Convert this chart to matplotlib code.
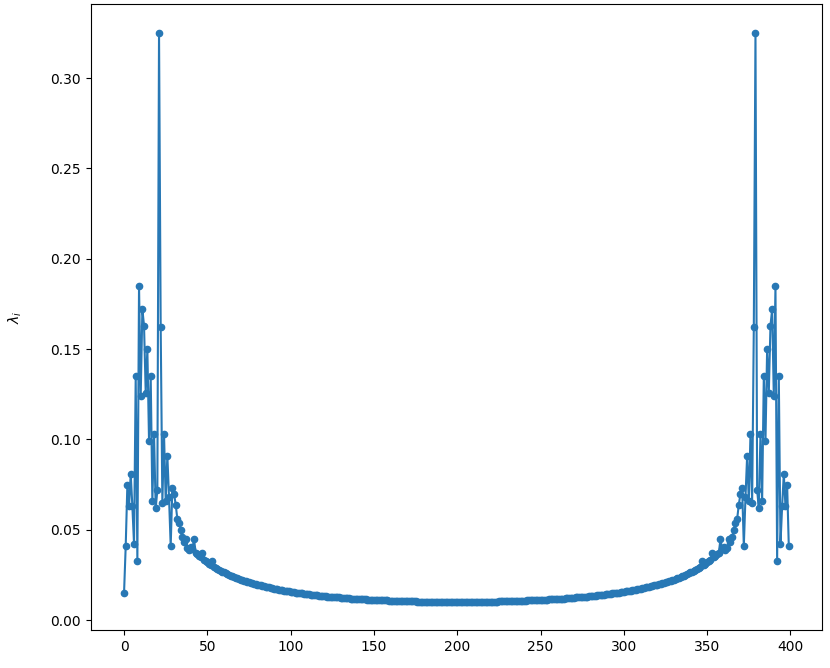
import numpy as np
import matplotlib.pyplot as plt

# left half of the spectrum, index 0..200 (right half mirrors it about 200)
head = [0.015, 0.041, 0.075, 0.063, 0.081, 0.063, 0.042, 0.135, 0.033, 0.185,
        0.124, 0.172, 0.163, 0.126, 0.150, 0.099, 0.135, 0.066, 0.103, 0.062,
        0.072, 0.325, 0.162, 0.065, 0.103, 0.066, 0.091, 0.068, 0.041, 0.073,
        0.070, 0.064, 0.056, 0.054, 0.050, 0.046, 0.043, 0.045, 0.040, 0.039,
        0.0405]

tail = [0.0393, 0.0448, 0.0374, 0.0365, 0.0357, 0.0349, 0.0373, 0.0333, 0.0326, 0.0320,
        0.0313, 0.0307, 0.0327, 0.0295, 0.0289, 0.0284, 0.0279, 0.0274, 0.0269, 0.0264,
        0.0260, 0.0255, 0.0251, 0.0247, 0.0243, 0.0239, 0.0236, 0.0232, 0.0229, 0.0225,
        0.0222, 0.0219, 0.0216, 0.0213, 0.0210, 0.0207, 0.0204, 0.0202, 0.0199, 0.0197,
        0.0194, 0.0192, 0.0189, 0.0187, 0.0185, 0.0183, 0.0181, 0.0179, 0.0177, 0.0175,
        0.0173, 0.0171, 0.0169, 0.0167, 0.0166, 0.0164, 0.0162, 0.0161, 0.0159, 0.0158,
        0.0156, 0.0155, 0.0153, 0.0152, 0.0151, 0.0149, 0.0148, 0.0147, 0.0145, 0.0144,
        0.0143, 0.0142, 0.0141, 0.0140, 0.0138, 0.0137, 0.0136, 0.0135, 0.0134, 0.0133,
        0.0132, 0.0131, 0.0131, 0.0130, 0.0129, 0.0128, 0.0127, 0.0126, 0.0126, 0.0125,
        0.0124, 0.0123, 0.0122, 0.0122, 0.0121, 0.0120, 0.0120, 0.0119, 0.0118, 0.0118,
        0.0117, 0.0117, 0.0116, 0.0115, 0.0115, 0.0114, 0.0114, 0.0113, 0.0113, 0.0112,
        0.0112, 0.0111, 0.0111, 0.0110, 0.0110, 0.0110, 0.0109, 0.0109, 0.0108, 0.0108,
        0.0108, 0.0107, 0.0107, 0.0107, 0.0106, 0.0106, 0.0106, 0.0105, 0.0105, 0.0105,
        0.0105, 0.0104, 0.0104, 0.0104, 0.0104, 0.0103, 0.0103, 0.0103, 0.0103, 0.0103,
        0.0103, 0.0102, 0.0102, 0.0102, 0.0102, 0.0102, 0.0102, 0.0102, 0.0101, 0.0101,
        0.0101, 0.0101, 0.0101, 0.0101, 0.0101, 0.0101, 0.0101, 0.0101, 0.0101, 0.0101]

left = head + tail                      # indices 0..200
lam = np.array(left + left[1:200][::-1])  # 400 values, symmetric about 200
idx = np.arange(len(lam))

fig = plt.figure(figsize=(8.3, 6.68), dpi=100)
ax = fig.add_axes([0.1094, 0.0563, 0.881, 0.937])
ax.plot(idx, lam, marker="o", markersize=4.5, color="#2878b5", lw=1.5)
ax.set_ylabel(r"$\lambda_i$")
ax.yaxis.set_label_coords(-0.092, 0.5)
fig.savefig("out.png")
